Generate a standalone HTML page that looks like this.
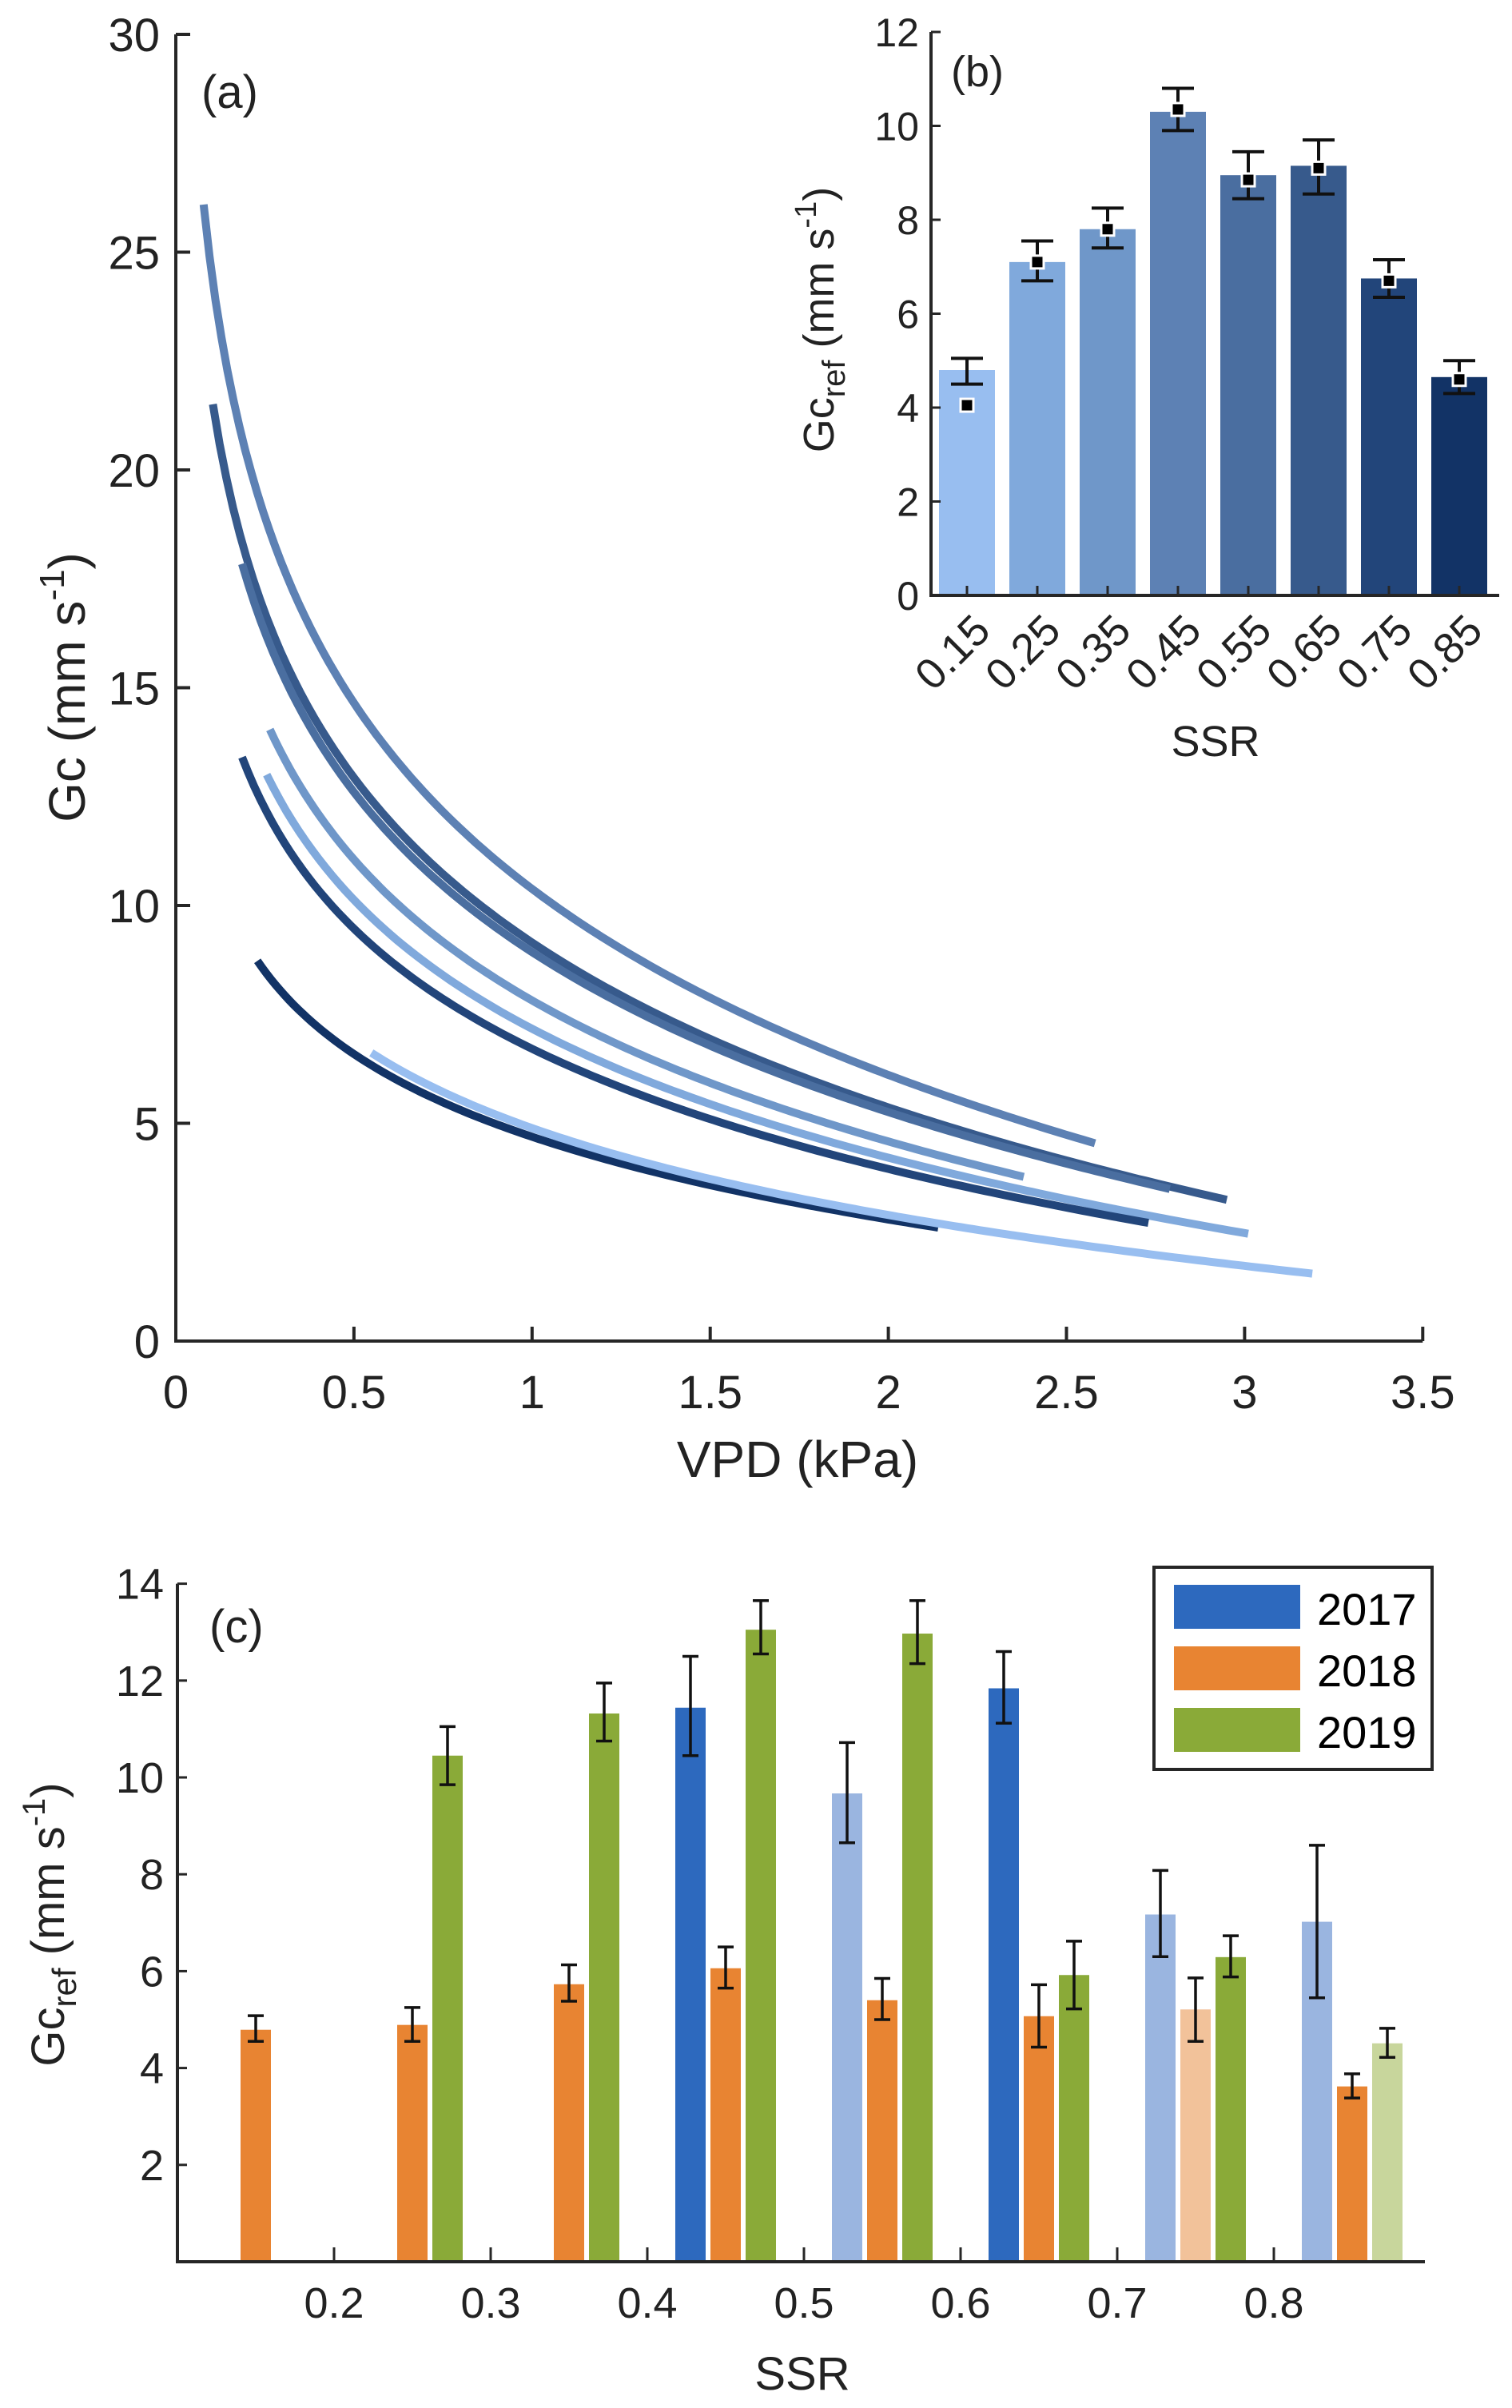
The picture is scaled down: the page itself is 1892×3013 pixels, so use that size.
<!DOCTYPE html>
<html><head><meta charset="utf-8"><style>
body{margin:0;background:#fff}
svg{display:block;font-family:"Liberation Sans",sans-serif;fill:#222}
</style></head><body>
<svg id="fig" width="1892" height="3013" viewBox="0 0 1892 3013" xmlns="http://www.w3.org/2000/svg">
<g id="pa"></g>
<g id="pb"></g>
<g id="pc"></g>
</svg>
<script>
// Panel (a) curves: Gc = Gcref - m * ln(VPD) over [xmin,xmax]
const curveRef=[10.38,9.15,8.93,7.82,7.17,6.71,4.69,4.89];
const curveM=[6.16,5.46,5.30,4.67,4.27,3.98,2.74,2.88];
const curveXmin=[0.078,0.104,0.186,0.264,0.255,0.186,0.229,0.549];
const curveXmax=[2.58,2.95,2.79,2.38,3.01,2.73,2.14,3.19];
const curveColors=["#5d81b4","#375a8c","#4a6ea0","#6f97c9","#80a9dc","#22457a","#123366","#98bef0"];
const aXTicks=[0,0.5,1,1.5,2,2.5,3,3.5];
const aYTicks=[0,5,10,15,20,25,30];
// Panel (b)
const bCats=["0.15","0.25","0.35","0.45","0.55","0.65","0.75","0.85"];
const bVals=[4.8,7.1,7.8,10.3,8.95,9.15,6.75,4.65];
const bLo=[4.5,6.7,7.4,9.9,8.45,8.55,6.35,4.3];
const bHi=[5.05,7.55,8.25,10.8,9.45,9.7,7.15,5.0];
const bMark=[4.05,7.1,7.8,10.35,8.85,9.1,6.7,4.6];
const bColors=["#98bef0","#80a9dc","#6f97c9","#5d81b4","#4a6ea0","#375a8c","#22457a","#123366"];
const bYTicks=[0,2,4,6,8,10,12];
// Panel (c)
const cSSR=[0.15,0.25,0.35,0.45,0.55,0.65,0.75,0.85];
const c2017=[null,null,null,11.44,9.67,11.84,7.17,7.02];
const c2017Lo=[null,null,null,10.45,8.65,11.12,6.3,5.45];
const c2017Hi=[null,null,null,12.5,10.72,12.6,8.08,8.6];
const c2017Faded=[0,0,0,0,1,0,1,1];
const c2018=[4.79,4.89,5.73,6.06,5.4,5.07,5.21,3.62];
const c2018Lo=[4.55,4.55,5.38,5.65,5.0,4.43,4.55,3.38];
const c2018Hi=[5.08,5.25,6.13,6.5,5.85,5.72,5.86,3.88];
const c2018Faded=[0,0,0,0,0,0,1,0];
const c2019=[null,10.45,11.32,13.05,12.97,5.92,6.29,4.51];
const c2019Lo=[null,9.85,10.75,12.55,12.35,5.22,5.88,4.22];
const c2019Hi=[null,11.05,11.95,13.65,13.65,6.62,6.73,4.82];
const c2019Faded=[0,0,0,0,0,0,0,1];
const cXTicks=[0.2,0.3,0.4,0.5,0.6,0.7,0.8];
const cYTicks=[2,4,6,8,10,12,14];
const years=["2017","2018","2019"];

const NS="http://www.w3.org/2000/svg";
function mk(p,t,at,txt){const e=document.createElementNS(NS,t);for(const k in at)e.setAttribute(k,at[k]);if(txt!==undefined)e.textContent=txt;p.appendChild(e);return e;}

// ---------- Panel A ----------
const pa=document.getElementById('pa');
const ax=v=>220+v*445.8, ay=v=>1678-v*54.5;
for(let i=0;i<curveRef.length;i++){
  let d="";
  for(let k=0;k<=150;k++){const x=curveXmin[i]+(curveXmax[i]-curveXmin[i])*k/150;const y=curveRef[i]-curveM[i]*Math.log(x);d+=(k?"L":"M")+ax(x).toFixed(1)+","+ay(y).toFixed(1);}
  const p=mk(pa,'path',{d:d,fill:'none',stroke:curveColors[i],'stroke-width':10});
  
  
}
mk(pa,'path',{d:`M${ax(0)},${ay(30)}V${ay(0)}H${ax(3.5)}`,fill:'none',stroke:'#262626','stroke-width':4});
aXTicks.forEach(t=>{mk(pa,'line',{x1:ax(t),x2:ax(t),y1:ay(0),y2:ay(0)-18,stroke:'#262626','stroke-width':4});
  const e=mk(pa,'text',{x:ax(t),y:1762,'font-size':58,'text-anchor':'middle'},String(t));});
aYTicks.forEach(t=>{mk(pa,'line',{x1:ax(0),x2:ax(0)+18,y1:ay(t),y2:ay(t),stroke:'#262626','stroke-width':4});
  const e=mk(pa,'text',{x:200,y:ay(t)+21,'font-size':58,'text-anchor':'end'},String(t));});
mk(pa,'text',{x:998,y:1848,'font-size':64,'text-anchor':'middle',},'VPD (kPa)');
const aty=mk(pa,'text',{transform:'translate(106,860) rotate(-90)','font-size':64,'text-anchor':'middle',});
aty.innerHTML='Gc (mm s<tspan dy="-26" font-size="44">-1</tspan><tspan dy="26">)</tspan>';
mk(pa,'text',{x:252,y:135,'font-size':58,},'(a)');

// ---------- Panel B ----------
const pb=document.getElementById('pb');
const bx=i=>1210+i*88, by=v=>745-v*58.75;
bVals.forEach((v,i)=>{
  const r=mk(pb,'rect',{x:bx(i)-35,y:by(v),width:70,height:by(0)-by(v),fill:bColors[i]});
  
  
  mk(pb,'path',{d:`M${bx(i)},${by(bLo[i])}V${by(bHi[i])}M${bx(i)-20},${by(bLo[i])}h40M${bx(i)-20},${by(bHi[i])}h40`,stroke:'#111','stroke-width':4,fill:'none'});
  mk(pb,'rect',{x:bx(i)-8,y:by(bMark[i])-8,width:16,height:16,fill:'#000',stroke:'#fff','stroke-width':3});
  mk(pb,'line',{x1:bx(i),x2:bx(i),y1:by(0),y2:by(0)-12,stroke:'#262626','stroke-width':3});
  const t=mk(pb,'text',{transform:`translate(${bx(i)+32},${792}) rotate(-45)`,'font-size':54,'text-anchor':'end'},bCats[i]);
  
});
mk(pb,'path',{d:`M1165,${by(12)}V${by(0)}H1876`,fill:'none',stroke:'#262626','stroke-width':4});
bYTicks.forEach(t=>{mk(pb,'line',{x1:1165,x2:1177,y1:by(t),y2:by(t),stroke:'#262626','stroke-width':3});
  const e=mk(pb,'text',{x:1150,y:by(t)+18,'font-size':50,'text-anchor':'end'},String(t));});
mk(pb,'text',{x:1521,y:946,'font-size':54,'text-anchor':'middle',},'SSR');
const bty=mk(pb,'text',{transform:'translate(1043,400) rotate(-90)','font-size':54,'text-anchor':'middle',});
bty.innerHTML='Gc<tspan dy="14" font-size="40">ref</tspan><tspan dy="-14"> (mm s</tspan><tspan dy="-22" font-size="38">-1</tspan><tspan dy="22">)</tspan>';
mk(pb,'text',{x:1190,y:108,'font-size':54,},'(b)');

// ---------- Panel C ----------
const pc=document.getElementById('pc');
const cx=s=>222+(s-0.1)*1960, cy=v=>2830-v*60.6;
const series=[[c2017,c2017Lo,c2017Hi,c2017Faded,"#2d69be","#9ab5e0",-44],[c2018,c2018Lo,c2018Hi,c2018Faded,"#e88432","#f2c29a",0],[c2019,c2019Lo,c2019Hi,c2019Faded,"#8aaa38","#c8d69c",44]];
series.forEach((s,si)=>{
  cSSR.forEach((ssr,i)=>{
    const v=s[0][i]; if(v==null) return;
    const x=cx(ssr)+s[6];
    const r=mk(pc,'rect',{x:x-19,y:cy(v),width:38,height:cy(0)-cy(v),fill:s[3][i]?s[5]:s[4]});
    
    
    mk(pc,'path',{d:`M${x},${cy(s[1][i])}V${cy(s[2][i])}M${x-10},${cy(s[1][i])}h20M${x-10},${cy(s[2][i])}h20`,stroke:'#111','stroke-width':3.5,fill:'none'});
  });
});
mk(pc,'path',{d:`M222,${cy(14)}V${cy(0)}H1783`,fill:'none',stroke:'#262626','stroke-width':4});
cXTicks.forEach(t=>{mk(pc,'line',{x1:cx(t),x2:cx(t),y1:cy(0),y2:cy(0)-18,stroke:'#262626','stroke-width':3});
  const e=mk(pc,'text',{x:cx(t),y:2900,'font-size':54,'text-anchor':'middle'},String(t));});
cYTicks.forEach(t=>{mk(pc,'line',{x1:222,x2:234,y1:cy(t),y2:cy(t),stroke:'#262626','stroke-width':3});
  const e=mk(pc,'text',{x:205,y:cy(t)+19,'font-size':54,'text-anchor':'end'},String(t));});
mk(pc,'text',{x:1004,y:2990,'font-size':58,'text-anchor':'middle',},'SSR');
const cty=mk(pc,'text',{transform:'translate(80,2408) rotate(-90)','font-size':58,'text-anchor':'middle',});
cty.innerHTML='Gc<tspan dy="15" font-size="42">ref</tspan><tspan dy="-15"> (mm s</tspan><tspan dy="-24" font-size="40">-1</tspan><tspan dy="24">)</tspan>';
mk(pc,'text',{x:262,y:2055,'font-size':58,},'(c)');
// legend
const lg=mk(pc,'g',{});
mk(lg,'rect',{x:1444,y:1961,width:348,height:253,fill:'#fff',stroke:'#262626','stroke-width':4});
const legC=["#2d69be","#e88432","#8aaa38"];
years.forEach((y,i)=>{
  const sw=mk(lg,'rect',{x:1469,y:1983+i*77,width:158,height:55,fill:legC[i]});
  
  
  const t=mk(lg,'text',{x:1648,y:2033+i*77,'font-size':56,fill:'#000'},y);
  
  
});
</script>
</body></html>
